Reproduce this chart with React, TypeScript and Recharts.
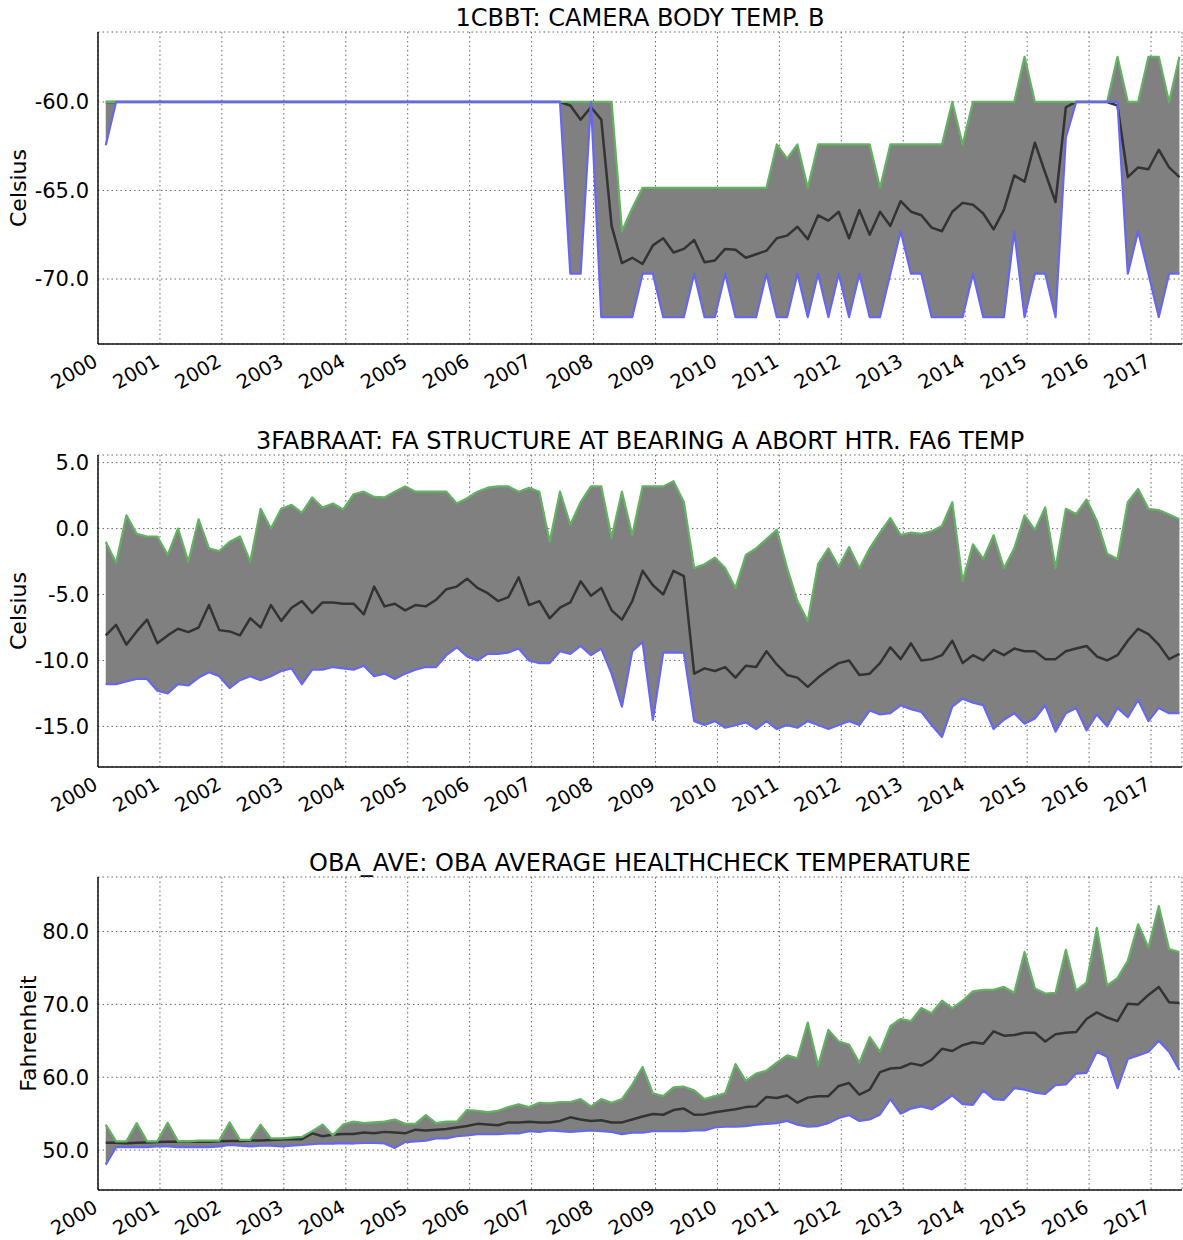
import { ComposedChart, Area, Line, XAxis, YAxis, CartesianGrid } from "recharts"

const FONT = '"DejaVu Sans", Verdana, sans-serif'

const YEARS = [2000, 2001, 2002, 2003, 2004, 2005, 2006, 2007, 2008, 2009, 2010, 2011, 2012, 2013, 2014, 2015, 2016, 2017]

// samples every two months, first one at 2000.125
const START = 2000.125

// 1CBBT camera body temp B (Celsius)
const CBBT_MAX = [
    -60, -60, -60, -60, -60, -60, -60, -60, -60, -60,
    -60, -60, -60, -60, -60, -60, -60, -60, -60, -60,
    -60, -60, -60, -60, -60, -60, -60, -60, -60, -60,
    -60, -60, -60, -60, -60, -60, -60, -60, -60, -60,
    -60, -60, -60, -60, -60, -60, -60, -60, -60, -60,
    -67.3, -66, -64.85, -64.85, -64.85, -64.85, -64.85, -64.85, -64.85, -64.85,
    -64.85, -64.85, -64.85, -64.85, -64.85, -62.4, -63.2, -62.4, -64.85, -62.4,
    -62.4, -62.4, -62.4, -62.4, -62.4, -64.85, -62.4, -62.4, -62.4, -62.4,
    -62.4, -62.4, -60, -62.4, -60, -60, -60, -60, -60, -57.45,
    -60, -60, -60, -60, -60, -60, -60, -60, -57.45, -60,
    -60, -57.45, -57.45, -60, -57.45,
]
const CBBT_MEAN = [
    -60, -60, -60, -60, -60, -60, -60, -60, -60, -60,
    -60, -60, -60, -60, -60, -60, -60, -60, -60, -60,
    -60, -60, -60, -60, -60, -60, -60, -60, -60, -60,
    -60, -60, -60, -60, -60, -60, -60, -60, -60, -60,
    -60, -60, -60, -60, -60, -60.2, -61, -60.3, -61, -67,
    -69.1, -68.8, -69.15, -68.1, -67.7, -68.5, -68.3, -67.8, -69.05, -68.95,
    -68.3, -68.35, -68.8, -68.6, -68.4, -67.7, -67.55, -67.05, -67.75, -66.4,
    -66.7, -66.2, -67.7, -66.1, -67.5, -66.2, -67, -65.6, -66.2, -66.4,
    -67.1, -67.3, -66.2, -65.7, -65.8, -66.3, -67.2, -66.1, -64.15, -64.5,
    -62.3, -64, -65.65, -60.3, -60, -60, -60, -60, -60.2, -64.25,
    -63.7, -63.8, -62.7, -63.7, -64.25,
]
const CBBT_MIN = [
    -62.45, -60, -60, -60, -60, -60, -60, -60, -60, -60,
    -60, -60, -60, -60, -60, -60, -60, -60, -60, -60,
    -60, -60, -60, -60, -60, -60, -60, -60, -60, -60,
    -60, -60, -60, -60, -60, -60, -60, -60, -60, -60,
    -60, -60, -60, -60, -60, -69.7, -69.7, -60, -72.15, -72.15,
    -72.15, -72.15, -69.7, -69.7, -72.15, -72.15, -72.15, -69.7, -72.15, -72.15,
    -69.7, -72.15, -72.15, -72.15, -69.7, -72.15, -72.15, -69.7, -72.15, -69.7,
    -72.15, -69.7, -72.15, -69.7, -72.15, -72.15, -69.7, -67.3, -69.7, -69.7,
    -72.15, -72.15, -72.15, -72.15, -69.7, -72.15, -72.15, -72.15, -67.3, -72.15,
    -69.7, -69.7, -72.15, -62, -60, -60, -60, -60, -60, -69.7,
    -67.3, -69.7, -72.15, -69.7, -69.7,
]
const CBBT_TICKS = [-70, -65, -60]

// 3FABRAAT FA structure at bearing A (Celsius)
const FA_MAX = [
    -1, -2.6, 1, -0.4, -0.6, -0.6, -2, 0, -2.5, 0.7,
    -1.5, -1.7, -1, -0.6, -2.5, 1.5, 0, 1.5, 1.8, 1.2,
    2.36, 1.6, 1.9, 1.45, 2.6, 2.8, 2.4, 2.36, 2.8, 3.2,
    2.8, 2.8, 2.8, 2.8, 1.9, 2.3, 2.8, 3.1, 3.2, 3.2,
    2.8, 3.1, 2.8, -1, 2.8, 0.3, 2, 3.2, 3.2, -0.7,
    2.8, -0.5, 3.2, 3.2, 3.2, 3.6, 2, -3, -2.7, -2.2,
    -3, -4.5, -2, -1.5, -0.8, -0.1, -3, -5.5, -7, -2.7,
    -1.5, -2.9, -1.4, -3, -1.5, -0.3, 0.8, -0.5, -0.3, -0.4,
    -0.2, 0.2, 2, -4, -1.2, -2.3, -0.5, -3, -1.5, 1,
    -0.1, 1.6, -3, 1.5, 1.1, 2.2, 0.6, -1.9, -2.3, 2,
    3, 1.5, 1.4, 1.07, 0.7,
]
const FA_MEAN = [
    -8.1, -7.3, -8.8, -7.8, -6.9, -8.7, -8.1, -7.6, -7.85, -7.5,
    -5.8, -7.7, -7.8, -8.1, -6.8, -7.5, -5.8, -7, -6, -5.5,
    -6.4, -5.6, -5.6, -5.7, -5.7, -6.5, -4.4, -5.9, -5.7, -6.2,
    -5.8, -5.9, -5.4, -4.6, -4.4, -3.8, -4.5, -4.9, -5.5, -5.2,
    -3.7, -5.8, -5.5, -6.8, -6, -5.6, -4, -5.1, -4.5, -6.2,
    -6.9, -5.5, -3.2, -4.3, -5, -3.2, -3.6, -11, -10.6, -10.8,
    -10.5, -11.3, -10.4, -10.5, -9.3, -10.3, -11.1, -11.3, -12, -11.3,
    -10.7, -10.2, -10, -11.1, -11, -10.2, -9, -9.9, -8.7, -10,
    -9.9, -9.6, -8.5, -10.2, -9.6, -10, -9.2, -9.6, -9.1, -9.3,
    -9.3, -9.9, -9.9, -9.3, -9.1, -8.9, -9.7, -10, -9.6, -8.5,
    -7.6, -8, -8.8, -9.9, -9.5,
]
const FA_MIN = [
    -11.8, -11.8, -11.6, -11.4, -11.4, -12.3, -12.5, -11.8, -11.9, -11.3,
    -10.9, -11.2, -12.1, -11.5, -11.2, -11.5, -11.2, -10.8, -10.6, -11.8,
    -10.7, -10.7, -10.5, -10.6, -10.7, -10.4, -11.2, -11, -11.4, -11,
    -10.7, -10.5, -10.5, -9.6, -9, -9.7, -10, -9.5, -9.5, -9.4,
    -9.1, -10, -10.2, -10.2, -9.3, -9.5, -8.9, -9.6, -9.1, -11,
    -13.5, -9.3, -8.6, -14.5, -9.4, -9.4, -9.4, -14.6, -14.9, -14.6,
    -15.1, -14.9, -14.7, -15.2, -14.6, -15.2, -14.9, -15.1, -14.6, -14.9,
    -15.2, -14.9, -14.6, -14.9, -13.8, -14.1, -14, -13.4, -13.7, -13.9,
    -14.9, -15.8, -13.5, -12.9, -13.2, -13.4, -15.2, -14.5, -14, -14.8,
    -14.4, -13.4, -15.4, -14, -13.6, -15.3, -14.1, -15, -13.6, -14.3,
    -13, -14.6, -13.6, -14, -14,
]
const FA_TICKS = [-15, -10, -5, 0, 5]

// OBA_AVE average healthcheck temperature (Fahrenheit)
const OBA_MAX = [
    53.5, 51.2, 51.2, 53.7, 51.2, 51.2, 53.75, 51.2, 51.2, 51.3,
    51.3, 51.3, 53.8, 51.4, 51.4, 53.5, 51.6, 51.6, 51.7, 51.8,
    52.6, 53.5, 52, 53.5, 53.9, 53.7, 53.8, 53.9, 54.2, 53.6,
    53.6, 54.8, 53.7, 53.9, 53.9, 55.5, 55.4, 55.2, 55.4, 55.9,
    56.3, 55.9, 56.5, 56.4, 56.6, 56.6, 57, 56, 57, 56.5,
    57, 59, 61.4, 57.8, 57.4, 58.6, 58.7, 58.2, 57, 57.4,
    57.8, 61.8, 59.5, 60.5, 60.9, 62, 63, 62.6, 67.5, 61.6,
    66.5, 64.9, 64.5, 62, 65.5, 63.5, 67, 68, 67.7, 69.5,
    68.8, 70.5, 69.5, 70.5, 71.8, 72, 72, 72.4, 71.6, 77.2,
    72.2, 71.5, 71.6, 77.5, 71.9, 73, 80.5, 72.6, 73.6, 76,
    81, 77.8, 83.5, 77.6, 77.2,
]
const OBA_MEAN = [
    51, 51, 50.95, 51, 51.05, 51.1, 51.15, 51.15, 51.15, 51.15,
    51.15, 51.2, 51.25, 51.25, 51.3, 51.3, 51.4, 51.45, 51.5, 51.5,
    52.3, 51.9, 52.1, 52.2, 52.2, 52.4, 52.3, 52.5, 52.4, 52.3,
    52.8, 52.7, 52.8, 52.9, 53.1, 53.3, 53.6, 53.5, 53.4, 53.8,
    53.8, 53.9, 53.8, 53.8, 54, 54.5, 54.2, 54, 54.1, 53.8,
    53.8, 54.2, 54.6, 54.95, 54.85, 55.5, 55.7, 54.85, 54.9, 55.2,
    55.4, 55.6, 55.9, 56, 57.3, 57.15, 57.5, 56.5, 57.2, 57.4,
    57.4, 58.8, 59.2, 57.6, 58.3, 60.7, 61.2, 61.3, 61.9, 61.6,
    62.4, 63.9, 63.6, 64.4, 64.8, 64.6, 66.3, 65.7, 65.8, 66.1,
    66.1, 64.9, 65.9, 66.1, 66.2, 68, 68.9, 68.2, 67.7, 70.1,
    70, 71.3, 72.4, 70.3, 70.2,
]
const OBA_MIN = [
    48, 50.4, 50.4, 50.4, 50.4, 50.5, 50.5, 50.4, 50.4, 50.4,
    50.4, 50.5, 50.7, 50.6, 50.5, 50.6, 50.6, 50.5, 50.6, 50.7,
    50.8, 50.9, 50.9, 50.95, 50.9, 51, 51, 50.9, 50.3, 51.1,
    51.2, 51.3, 51.6, 51.6, 51.9, 52, 52.2, 52.2, 52.2, 52.3,
    52.3, 52.6, 52.5, 52.7, 52.6, 52.5, 52.6, 52.7, 52.6, 52.5,
    52.2, 52.4, 52.4, 52.6, 52.6, 52.6, 52.6, 52.7, 52.7, 53.1,
    53.2, 53.2, 53.3, 53.5, 53.6, 53.7, 54, 53.5, 53.2, 53.3,
    53.7, 54.4, 54.8, 54, 54.2, 54.9, 57, 55, 55.7, 56,
    55.6, 56.5, 57.5, 56.3, 56.2, 58.2, 57, 56.9, 58.5, 58.3,
    57.9, 57.7, 58.9, 59, 60.5, 60.6, 63.5, 62.8, 58.5, 62.5,
    63, 63.5, 65, 63.5, 61,
]
const OBA_TICKS = [50, 60, 70, 80]

function toRows(max: number[], mean: number[], min: number[]) {
    return max.map((hi, i) => ({
        t: START + i / 6,
        hi,
        mean: mean[i],
        lo: min[i],
        band: [min[i], hi],
    }))
}

// rotated year labels, right end sitting under the tick
// eslint-disable-next-line @typescript-eslint/no-explicit-any
function YearTick({ x, y, payload }: any) {
    const tx = x + 1
    const ty = y + 21
    return (
        <text x={tx} y={ty} transform={`rotate(-30 ${tx} ${ty})`} textAnchor="end"
            fontSize={19.5} fontFamily={FONT} fill="#000">
            {payload.value}
        </text>
    )
}

// eslint-disable-next-line @typescript-eslint/no-explicit-any
function AxisTitle({ viewBox, text, baseX }: any) {
    const cy = viewBox.y + viewBox.height / 2
    return (
        <text x={baseX} y={cy} transform={`rotate(-90 ${baseX} ${cy})`} textAnchor="middle"
            fontSize={22} fontFamily={FONT} fill="#000">
            {text}
        </text>
    )
}

interface PanelProps {
    top: number
    height: number
    bottom: number
    xHeight: number
    title: string
    unit: string
    unitX: number
    domain: [number, number]
    ticks: number[]
    rows: ReturnType<typeof toRows>
}

function Panel({ top, height, bottom, xHeight, title, unit, unitX, domain, ticks, rows }: PanelProps) {
    return (
        <div style={{ position: "absolute", left: 0, top, width: 1183, height }}>
            <div style={{
                position: "absolute", left: 98, top: 6, width: 1084, textAlign: "center",
                fontSize: 24, lineHeight: "24px", whiteSpace: "nowrap", fontFamily: FONT, color: "#000",
            }}>
                {title}
            </div>
            <ComposedChart width={1183} height={height} data={rows}
                margin={{ top: 32, right: 1, bottom, left: 0 }}>
                <CartesianGrid stroke="#666" strokeDasharray="1.5 3" />
                <XAxis dataKey="t" type="number" domain={[2000, 2017.5]} ticks={YEARS} interval={0}
                    allowDataOverflow height={xHeight} tickLine={false} tickSize={0} tickMargin={0}
                    tick={<YearTick />} axisLine={{ stroke: "#111", strokeWidth: 1.5 }} />
                <XAxis xAxisId="top" orientation="top" type="number" domain={[2000, 2017.5]}
                    allowDataOverflow height={0} tick={false} tickLine={false}
                    axisLine={{ stroke: "#111", strokeWidth: 1.5 }} />
                <YAxis type="number" domain={domain} ticks={ticks} interval={0} allowDataOverflow width={98}
                    tickLine={false} tickSize={0} tickMargin={9}
                    tickFormatter={(v: number) => v.toFixed(1)}
                    tick={{ fill: "#000", fontSize: 21, fontFamily: FONT }}
                    axisLine={{ stroke: "#111", strokeWidth: 1.5 }}
                    label={<AxisTitle text={unit} baseX={unitX} />} />
                <YAxis yAxisId="right" orientation="right" type="number" domain={domain} allowDataOverflow
                    width={0} tick={false} tickLine={false} axisLine={{ stroke: "#111", strokeWidth: 1.5 }} />
                <Area dataKey="band" type="linear" fill="#808080" fillOpacity={1} stroke="none"
                    isAnimationActive={false} />
                <Line dataKey="mean" type="linear" stroke="#333333" strokeWidth={2.5} dot={false}
                    strokeLinejoin="round" isAnimationActive={false} />
                <Line dataKey="hi" type="linear" stroke="#62b262" strokeWidth={2.2}
                    dot={false} strokeLinejoin="round" isAnimationActive={false} />
                <Line dataKey="lo" type="linear" stroke="#6666ee" strokeWidth={2.2}
                    dot={false} strokeLinejoin="round" isAnimationActive={false} />
            </ComposedChart>
        </div>
    )
}

export default function App() {
    return (
        <div style={{ position: "absolute", left: 0, top: 0, width: 1183, height: 1240, background: "#fff", fontFamily: FONT }}>
            <Panel top={0} height={420} bottom={16} xHeight={60}
                title="1CBBT: CAMERA BODY TEMP. B" unit="Celsius" unitX={26}
                domain={[-73.67, -56.05]} ticks={CBBT_TICKS}
                rows={toRows(CBBT_MAX, CBBT_MEAN, CBBT_MIN)} />
            <Panel top={423} height={420} bottom={16} xHeight={60}
                title="3FABRAAT: FA STRUCTURE AT BEARING A ABORT HTR. FA6 TEMP" unit="Celsius" unitX={26}
                domain={[-18.08, 5.58]} ticks={FA_TICKS}
                rows={toRows(FA_MAX, FA_MEAN, FA_MIN)} />
            <Panel top={845} height={410} bottom={10} xHeight={55}
                title="OBA_AVE: OBA AVERAGE HEALTHCHECK TEMPERATURE" unit="Fahrenheit" unitX={36}
                domain={[44.52, 87.49]} ticks={OBA_TICKS}
                rows={toRows(OBA_MAX, OBA_MEAN, OBA_MIN)} />
        </div>
    )
}
